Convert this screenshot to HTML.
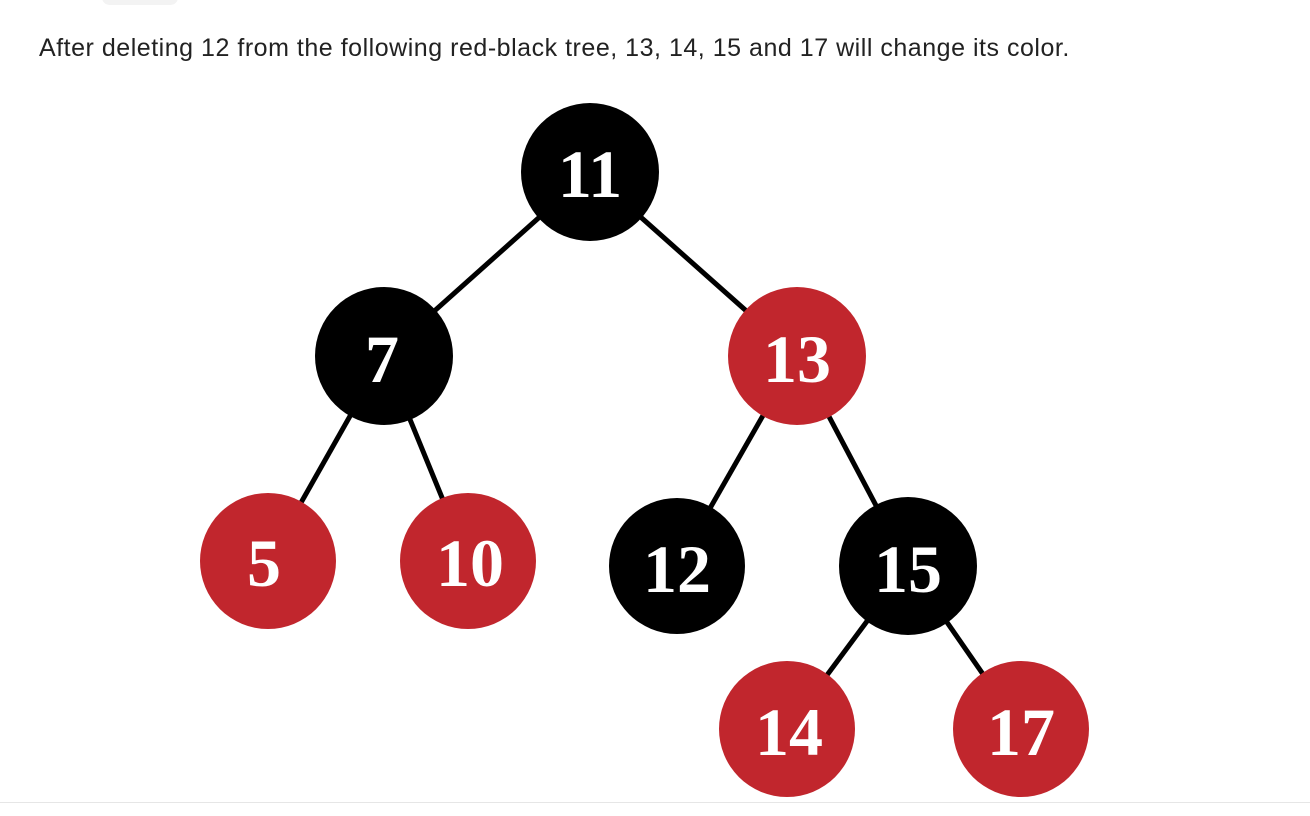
<!DOCTYPE html>
<html><head><style>
body{margin:0;width:1310px;height:816px;background:#fff;overflow:hidden;position:relative;font-family:"Liberation Sans",sans-serif}
.t{position:absolute;left:39px;top:34px;font-size:25px;color:#222;letter-spacing:0.52px}
.tab{position:absolute;left:102px;top:-10px;width:76px;height:15px;border-radius:8px;background:#f3f3f3}
.hr{position:absolute;left:0;top:802px;width:1310px;height:1px;background:#e6e6e6}
svg{position:absolute;left:0;top:0}
text{font-family:"Liberation Serif",serif;font-size:68px;font-weight:bold;fill:#fff;text-anchor:middle}
</style></head><body>
<div class="tab"></div>
<div class="t">After deleting 12 from the following red-black tree, 13, 14, 15 and 17 will change its color.</div>
<svg width="1310" height="816">
<g stroke="#000" stroke-width="5">
<line x1="590" y1="172" x2="384" y2="356"/>
<line x1="590" y1="172" x2="797" y2="356"/>
<line x1="384" y1="356" x2="268" y2="561"/>
<line x1="384" y1="356" x2="468" y2="561"/>
<line x1="797" y1="356" x2="677" y2="566"/>
<line x1="797" y1="356" x2="908" y2="566"/>
<line x1="908" y1="566" x2="787" y2="729"/>
<line x1="908" y1="566" x2="1021" y2="729"/>
</g>
<circle cx="590" cy="172" r="69" fill="#000"/>
<circle cx="384" cy="356" r="69" fill="#000"/>
<circle cx="797" cy="356" r="69" fill="#c1262d"/>
<circle cx="268" cy="561" r="68" fill="#c1262d"/>
<circle cx="468" cy="561" r="68" fill="#c1262d"/>
<circle cx="677" cy="566" r="68" fill="#000"/>
<circle cx="908" cy="566" r="69" fill="#000"/>
<circle cx="787" cy="729" r="68" fill="#c1262d"/>
<circle cx="1021" cy="729" r="68" fill="#c1262d"/>
<text x="590" y="197">11</text>
<text x="382" y="382">7</text>
<text x="797" y="382">13</text>
<text x="264" y="586">5</text>
<text x="470" y="586">10</text>
<text x="677" y="592">12</text>
<text x="908" y="592">15</text>
<text x="789" y="755">14</text>
<text x="1021" y="755">17</text>
</svg>
<div class="hr"></div>
</body></html>
